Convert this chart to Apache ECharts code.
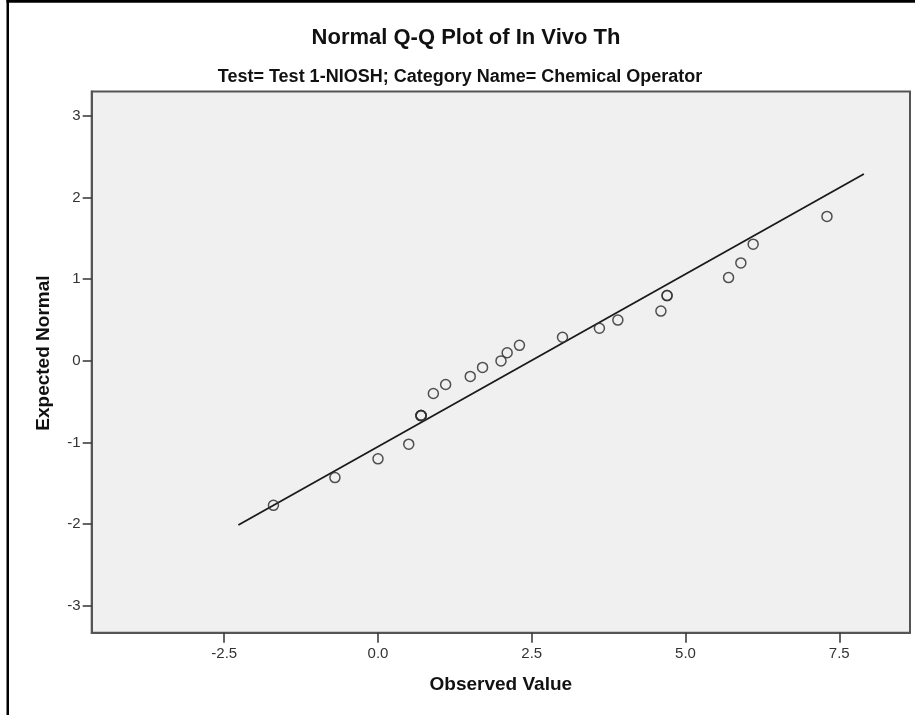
<!DOCTYPE html>
<html>
<head>
<meta charset="utf-8">
<script src="https://cdn.jsdelivr.net/npm/echarts@6/dist/echarts.min.js"></script>
<style>
html,body{margin:0;padding:0;background:#fff;}
#chart{width:915px;height:715px;}
</style>
</head>
<body>
<div id="chart"></div>
<script>
// Observed values (x) and expected normal values (y)
const observed = [-1.7, -0.7, 0.0, 0.5, 0.7, 0.7, 0.7, 0.7, 0.9, 1.1, 1.5, 1.7, 2.0, 2.1, 2.3, 3.0, 3.6, 3.9, 4.6, 4.7, 4.7, 5.7, 5.9, 6.1, 7.3];
const expected = [-1.77, -1.43, -1.20, -1.02, -0.67, -0.67, -0.67, -0.67, -0.40, -0.29, -0.19, -0.08, 0.00, 0.10, 0.19, 0.29, 0.40, 0.50, 0.61, 0.80, 0.80, 1.02, 1.20, 1.43, 1.77];
// Reference line end points
const refX = [-2.27, 7.90];
const refY = [-2.01, 2.29];
// Tick values
const xTicks = [-2.5, 0.0, 2.5, 5.0, 7.5];
const yTicks = [-3, -2, -1, 0, 1, 2, 3];

const titleText = 'Normal Q-Q Plot of In Vivo Th';
const subtitleText = 'Test= Test 1-NIOSH; Category Name= Chemical Operator';

const FONT = "'Liberation Sans', Arial, sans-serif";

const chart = echarts.init(document.getElementById('chart'), null, {renderer: 'canvas'});

const points = observed.map((v, i) => [v, expected[i]]);
const refLine = refX.map((v, i) => [v, refY[i]]);

chart.setOption({
  animation: false,
  backgroundColor: '#ffffff',
  title: [
    {
      text: titleText, left: 466, top: 27, textAlign: 'center', padding: 0,
      textStyle: {fontFamily: FONT, fontSize: 22, fontWeight: 'bold', color: '#111'}
    },
    {
      text: subtitleText, left: 460, top: 68, textAlign: 'center', padding: 0,
      textStyle: {fontFamily: FONT, fontSize: 18, fontWeight: 'bold', color: '#111'}
    }
  ],
  graphic: [
    {type: 'rect', shape: {x: 6.5, y: 0, width: 2.5, height: 715}, style: {fill: '#000'}, silent: true},
    {type: 'rect', shape: {x: 6.5, y: 0, width: 915, height: 2.7}, style: {fill: '#000'}, silent: true}
  ],
  grid: {
    left: 91.7, right: 5, top: 91.5, bottom: 82.3,
    show: true, backgroundColor: '#f0f0f0', borderColor: '#555', borderWidth: 2,
    containLabel: false, outerBoundsMode: 'none'
  },
  xAxis: {
    type: 'value', min: -4.655, max: 8.65,
    name: 'Observed Value', nameLocation: 'middle', nameGap: 43,
    nameTextStyle: {fontFamily: FONT, fontSize: 19, fontWeight: 'bold', color: '#111'},
    axisLine: {show: true, onZero: false, lineStyle: {color: '#555', width: 2}},
    axisTick: {show: true, customValues: xTicks, length: 10, lineStyle: {color: '#333', width: 1.5}},
    axisLabel: {show: true, customValues: xTicks, margin: 14, fontFamily: FONT, fontSize: 15, color: '#333',
      formatter: v => v.toFixed(1)},
    splitLine: {show: false}
  },
  yAxis: {
    type: 'value', min: -3.33, max: 3.30,
    name: 'Expected Normal', nameLocation: 'middle', nameGap: 38, nameRotate: 90,
    nameTextStyle: {fontFamily: FONT, fontSize: 19, fontWeight: 'bold', color: '#111', padding: [0, 0, 0, 18]},
    axisLine: {show: true, onZero: false, lineStyle: {color: '#555', width: 2}},
    axisTick: {show: true, customValues: yTicks, length: 9, lineStyle: {color: '#333', width: 1.5}},
    axisLabel: {show: true, customValues: yTicks, margin: 11, fontFamily: FONT, fontSize: 15, color: '#333',
      formatter: v => String(Math.round(v))},
    splitLine: {show: false}
  },
  series: [
    {
      type: 'line', data: refLine, symbol: 'none', silent: true,
      lineStyle: {color: '#1a1a1a', width: 1.8}, z: 2
    },
    {
      type: 'scatter', data: points, symbol: 'circle', symbolSize: 10,
      itemStyle: {color: 'rgba(0,0,0,0)', borderColor: '#333', borderWidth: 1.5, opacity: 0.85}, z: 3
    }
  ]
});
</script>
</body>
</html>
